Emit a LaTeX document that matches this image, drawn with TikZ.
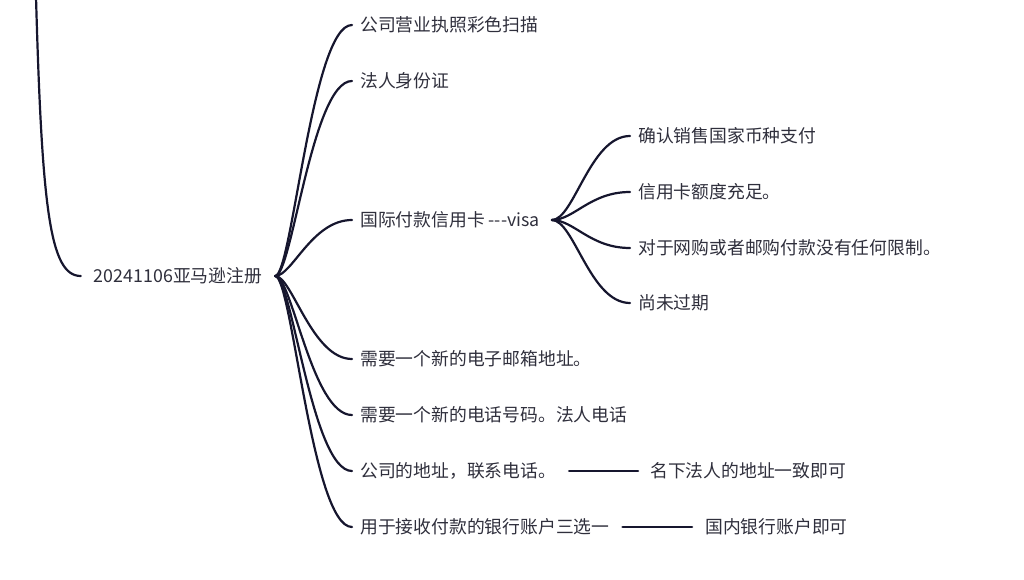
\documentclass[tikz,border=0pt]{standalone}
\usepackage{fontspec}
\newfontfamily\cjk{Noto Sans CJK SC}
\definecolor{ink}{HTML}{16162E}
\definecolor{txt}{HTML}{2F2F3C}
\begin{document}
\begin{tikzpicture}[x=1pt,y=-1pt,
  topic/.style={text=txt,font=\cjk\fontsize{17.8}{20}\selectfont,inner xsep=8pt,inner ysep=2pt},
  leaf/.style={topic,anchor=west},
  link/.style={draw=ink,line width=2.2pt,line cap=round}]
\useasboundingbox (0,0) rectangle (1024,580);
% root and the branch coming from above
\coordinate (up) at (36,-3);
\node[topic,inner xsep=13pt] (R) at (178,276) {20241106亚马逊注册};
\draw[link] (up) .. controls (42,210) and (50,276) .. (R.west);
% first level
\node[leaf] (A) at (352,25) {公司营业执照彩色扫描};
\node[leaf] (B) at (352,81) {法人身份证};
\node[leaf] (C) at (352,220) {国际付款信用卡 ---visa};
\node[leaf] (D) at (352,359) {需要一个新的电子邮箱地址。};
\node[leaf] (E) at (352,415) {需要一个新的电话号码。法人电话};
\node[leaf] (F) at (352,471) {公司的地址，联系电话。};
\node[leaf] (G) at (352,527) {用于接收付款的银行账户三选一};
\foreach \n/\y in {A/25,B/81,C/220,D/359,E/415,F/471,G/527}
  \draw[link] (R.east) .. controls (292,276) and (312,\y) .. (\n.west);
% visa details
\node[leaf] (C1) at (630,136) {确认销售国家币种支付};
\node[leaf] (C2) at (630,192) {信用卡额度充足。};
\node[leaf] (C3) at (630,248) {对于网购或者邮购付款没有任何限制。};
\node[leaf] (C4) at (630,303) {尚未过期};
\foreach \n/\y in {C1/136,C2/192,C3/248,C4/303}
  \draw[link] ([xshift=4pt]C.east) .. controls (574,220) and (590,\y) .. (\n.west);
% notes on the right
\node[leaf] (F1) at (642,471) {名下法人的地址一致即可};
\node[leaf] (G1) at (697,527) {国内银行账户即可};
\draw[link,line width=2.6pt,shorten <=5pt,shorten >=4pt] (F.east) -- (F1.west);
\draw[link,line width=2.6pt,shorten <=5pt,shorten >=5pt] (G.east) -- (G1.west);
\end{tikzpicture}
\end{document}
